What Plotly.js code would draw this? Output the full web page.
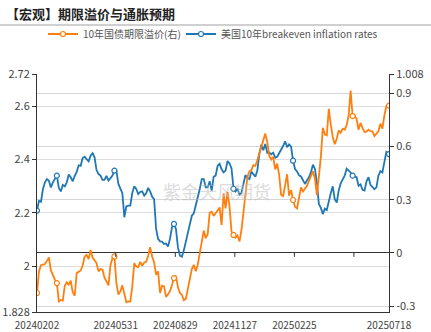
<!DOCTYPE html>
<html>
<head>
<meta charset="utf-8">
<script src="https://cdn.plot.ly/plotly-3.0.1.min.js"></script>
<style>html,body{margin:0;padding:0;background:#fff;}#chart{width:431px;height:332px;}</style>
</head>
<body>
<div id="chart"></div>
<script>
// Dates (sampled every 3 days, plus final date)
const dates = [
'2024-02-02','2024-02-05','2024-02-08','2024-02-11','2024-02-14','2024-02-17','2024-02-20','2024-02-23','2024-02-26','2024-02-29',
'2024-03-03','2024-03-06','2024-03-09','2024-03-12','2024-03-15','2024-03-18','2024-03-21','2024-03-24','2024-03-27','2024-03-30',
'2024-04-02','2024-04-05','2024-04-08','2024-04-11','2024-04-14','2024-04-17','2024-04-20','2024-04-23','2024-04-26','2024-04-29',
'2024-05-02','2024-05-05','2024-05-08','2024-05-11','2024-05-14','2024-05-17','2024-05-20','2024-05-23','2024-05-26','2024-05-29',
'2024-06-01','2024-06-04','2024-06-07','2024-06-10','2024-06-13','2024-06-16','2024-06-19','2024-06-22','2024-06-25','2024-06-28',
'2024-07-01','2024-07-04','2024-07-07','2024-07-10','2024-07-13','2024-07-16','2024-07-19','2024-07-22','2024-07-25','2024-07-28',
'2024-07-31','2024-08-03','2024-08-06','2024-08-09','2024-08-12','2024-08-15','2024-08-18','2024-08-21','2024-08-24','2024-08-27',
'2024-08-30','2024-09-02','2024-09-05','2024-09-08','2024-09-11','2024-09-14','2024-09-17','2024-09-20','2024-09-23','2024-09-26',
'2024-09-29','2024-10-02','2024-10-05','2024-10-08','2024-10-11','2024-10-14','2024-10-17','2024-10-20','2024-10-23','2024-10-26',
'2024-10-29','2024-11-01','2024-11-04','2024-11-07','2024-11-10','2024-11-13','2024-11-16','2024-11-19','2024-11-22','2024-11-25',
'2024-11-28','2024-12-01','2024-12-04','2024-12-07','2024-12-10','2024-12-13','2024-12-16','2024-12-19','2024-12-22','2024-12-25',
'2024-12-28','2024-12-31','2025-01-03','2025-01-06','2025-01-09','2025-01-12','2025-01-15','2025-01-18','2025-01-21','2025-01-24',
'2025-01-27','2025-01-30','2025-02-02','2025-02-05','2025-02-08','2025-02-11','2025-02-14','2025-02-17','2025-02-20','2025-02-23',
'2025-02-26','2025-03-01','2025-03-04','2025-03-07','2025-03-10','2025-03-13','2025-03-16','2025-03-19','2025-03-22','2025-03-25',
'2025-03-28','2025-03-31','2025-04-03','2025-04-06','2025-04-09','2025-04-12','2025-04-15','2025-04-18','2025-04-21','2025-04-24',
'2025-04-27','2025-04-30','2025-05-03','2025-05-06','2025-05-09','2025-05-12','2025-05-15','2025-05-18','2025-05-21','2025-05-24',
'2025-05-27','2025-05-30','2025-06-02','2025-06-05','2025-06-08','2025-06-11','2025-06-14','2025-06-17','2025-06-20','2025-06-23',
'2025-06-26','2025-06-29','2025-07-02','2025-07-05','2025-07-08','2025-07-11','2025-07-14','2025-07-18'
];

// 美国10年breakeven inflation rates (left axis)
const breakeven = [
2.208,2.245,2.241,2.289,2.314,2.326,2.320,2.295,2.314,2.326,
2.339,2.293,2.280,2.304,2.299,2.314,2.343,2.333,2.318,2.338,
2.353,2.378,2.376,2.405,2.410,2.401,2.393,2.414,2.423,2.408,
2.360,2.345,2.339,2.323,2.323,2.338,2.321,2.330,2.339,2.358,
2.358,2.308,2.290,2.273,2.183,2.224,2.227,2.227,2.274,2.299,
2.289,2.270,2.278,2.280,2.264,2.273,2.293,2.280,2.260,2.251,
2.140,2.102,2.093,2.092,2.083,2.085,2.073,2.103,2.145,2.158,
2.139,2.070,2.039,2.035,2.060,2.095,2.127,2.167,2.189,2.198,
2.225,2.253,2.289,2.326,2.326,2.295,2.295,2.318,2.283,2.335,
2.339,2.376,2.383,2.363,2.351,2.358,2.394,2.385,2.366,2.290,
2.280,2.290,2.268,2.275,2.311,2.341,2.331,2.326,2.354,2.345,
2.335,2.358,2.420,2.455,2.434,2.458,2.424,2.426,2.419,2.425,
2.406,2.410,2.424,2.433,2.450,2.468,2.446,2.456,2.448,2.395,
2.364,2.355,2.340,2.336,2.320,2.308,2.321,2.333,2.351,2.380,
2.365,2.314,2.233,2.218,2.195,2.215,2.210,2.246,2.273,2.299,
2.251,2.238,2.283,2.310,2.328,2.339,2.365,2.358,2.351,2.339,
2.336,2.333,2.301,2.306,2.286,2.283,2.318,2.333,2.305,2.295,
2.288,2.295,2.339,2.356,2.351,2.390,2.428,2.420
];

// 10年国债期限溢价 (right axis)
const termPremium = [
-0.226,-0.104,-0.069,-0.067,-0.063,-0.045,-0.026,-0.099,-0.129,-0.151,
-0.170,-0.273,-0.265,-0.269,-0.185,-0.166,-0.179,-0.157,-0.222,-0.241,
-0.114,-0.106,-0.099,-0.071,-0.020,-0.011,-0.035,0.017,-0.026,-0.041,
-0.058,-0.104,-0.091,-0.095,-0.140,-0.160,-0.183,-0.071,-0.030,-0.020,
-0.170,-0.235,-0.217,-0.183,-0.226,-0.278,-0.273,-0.274,-0.189,-0.058,
-0.076,-0.080,-0.050,-0.073,-0.054,-0.050,-0.016,0.032,-0.020,-0.054,
-0.123,-0.104,-0.226,-0.185,-0.189,-0.248,-0.233,-0.216,-0.181,-0.142,
-0.129,-0.194,-0.226,-0.237,-0.267,-0.258,-0.203,-0.155,-0.091,-0.067,
-0.104,-0.065,-0.007,0.055,0.126,0.083,0.107,0.227,0.232,0.208,
0.223,0.241,0.256,0.157,0.335,0.251,0.344,0.260,0.120,0.101,
0.086,0.098,0.064,0.129,0.232,0.326,0.428,0.460,0.466,0.494,
0.490,0.522,0.563,0.597,0.632,0.672,0.625,0.546,0.526,0.541,
0.470,0.503,0.438,0.326,0.320,0.395,0.443,0.322,0.354,0.298,
0.260,0.251,0.316,0.369,0.346,0.363,0.378,0.406,0.432,0.460,
0.421,0.326,0.428,0.541,0.705,0.668,0.662,0.812,0.724,0.653,
0.612,0.643,0.690,0.677,0.700,0.694,0.720,0.774,0.915,0.771,
0.774,0.756,0.694,0.733,0.705,0.681,0.683,0.694,0.686,0.685,
0.658,0.671,0.685,0.728,0.700,0.774,0.827,0.830
];

// Dates where hollow symbols are shown
const symbolDates = ['2024-02-02','2024-03-03','2024-05-29','2024-08-27','2024-11-25','2025-02-23','2025-05-24','2025-07-18'];

// X axis ticks
const xTickVals = ['2024-02-02','2024-05-31','2024-08-29','2024-11-27','2025-02-25','2025-05-26','2025-07-18'];
const xTickText = ['20240202','20240531','20240829','20241127','20250225','','20250718'];
const zeroTickDates = ['2024-05-31','2024-08-29','2024-11-27','2025-02-25','2025-05-26'];

// Y axis ticks
const leftTicks = [1.828, 2, 2.2, 2.4, 2.6, 2.72];
const leftTickText = ['1.828','2','2.2','2.4','2.6','2.72'];
const rightTicks = [-0.3, 0, 0.3, 0.6, 0.9, 1.008];
const rightTickText = ['-0.3','0','0.3','0.6','0.9','1.008'];

const seriesNames = ['10年国债期限溢价(右)', '美国10年breakeven inflation rates'];

const ORANGE = '#ff7f0e', BLUE = '#1f77b4';
const FONT = '"Noto Sans CJK SC", "Noto Sans", sans-serif';
const symIdx = symbolDates.map(d => dates.indexOf(d));

const traces = [
  {
    x: dates, y: termPremium, yaxis: 'y2', name: seriesNames[0], legend: 'legend',
    type: 'scatter', mode: 'lines+markers',
    line: {color: ORANGE, width: 1.8},
    marker: {symbol: 'circle', size: 5, color: '#ffffff', line: {color: ORANGE, width: 1.2}},
    selectedpoints: symIdx,
    unselected: {marker: {opacity: 0}},
    hoverinfo: 'skip'
  },
  {
    x: dates, y: breakeven, yaxis: 'y', name: seriesNames[1], legend: 'legend2',
    type: 'scatter', mode: 'lines+markers',
    line: {color: BLUE, width: 1.8},
    marker: {symbol: 'circle', size: 5, color: '#ffffff', line: {color: BLUE, width: 1.2}},
    selectedpoints: symIdx,
    unselected: {marker: {opacity: 0}},
    hoverinfo: 'skip'
  }
];

const shapes = [
  {type: 'line', xref: 'paper', yref: 'paper', x0: -37/352, x1: 394/352, y0: 287/238, y1: 287/238,
   line: {color: '#a0a0a0', width: 1}}
].concat(zeroTickDates.map(d => ({
  type: 'line', xref: 'x', yref: 'y2', x0: d, x1: d,
  ysizemode: 'pixel', yanchor: 0, y0: 0, y1: -4,
  line: {color: '#333', width: 1}
})));

const legendBase = {
  orientation: 'h', xanchor: 'left', y: (312-34)/238, yanchor: 'middle',
  font: {family: FONT, size: 10, color: '#555'},
  itemwidth: 30, bgcolor: 'rgba(0,0,0,0)'
};

const layout = {
  width: 431, height: 332,
  margin: {l: 37, r: 42, t: 74, b: 20, pad: 0},
  paper_bgcolor: '#ffffff', plot_bgcolor: '#ffffff',
  font: {family: FONT, size: 11, color: '#333'},
  showlegend: true,
  title: {
    text: '【宏观】期限溢价与通胀预期',
    font: {family: FONT, size: 13, color: '#222', weight: 'bold'},
    xref: 'container', yref: 'container', x: 6/431, xanchor: 'left', y: 1 - 14/332, yanchor: 'middle'
  },
  legend: Object.assign({}, legendBase, {x: 6/352}),
  legend2: Object.assign({}, legendBase, {x: 144/352}),
  xaxis: {
    type: 'date', range: ['2024-02-02', '2025-07-18'],
    tickmode: 'array', tickvals: xTickVals, ticktext: xTickText,
    ticks: '', showgrid: false, zeroline: false,
    showline: true, linecolor: '#333', linewidth: 1,
    ticklabelstandoff: 4,
    tickfont: {size: 10, color: '#444'}, fixedrange: true
  },
  yaxis: {
    range: [1.828, 2.72], tickmode: 'array', tickvals: leftTicks, ticktext: leftTickText,
    ticks: 'outside', ticklen: 4, tickcolor: '#333',
    showline: true, linecolor: '#333', linewidth: 1,
    showgrid: true, gridcolor: '#dedede', gridwidth: 1, zeroline: false,
    tickfont: {size: 11, color: '#444'}
  },
  yaxis2: {
    range: [-0.333, 1.008], overlaying: 'y', side: 'right',
    tickmode: 'array', tickvals: rightTicks, ticktext: rightTickText,
    ticks: 'outside', ticklen: 4, tickcolor: '#333',
    showline: true, linecolor: '#333', linewidth: 1,
    showgrid: true, gridcolor: '#d6d6d6', gridwidth: 1,
    zeroline: true, zerolinecolor: '#333', zerolinewidth: 1,
    tickfont: {size: 11, color: '#444'}
  },
  shapes: shapes,
  annotations: [{
    text: '紫金天风期货', xref: 'paper', yref: 'paper', x: 0.51, y: 0.508,
    showarrow: false, font: {family: FONT, size: 18, color: 'rgba(190,190,190,0.55)'}
  }]
};

Plotly.newPlot('chart', traces, layout, {displayModeBar: false, staticPlot: true});
</script>
</body>
</html>
